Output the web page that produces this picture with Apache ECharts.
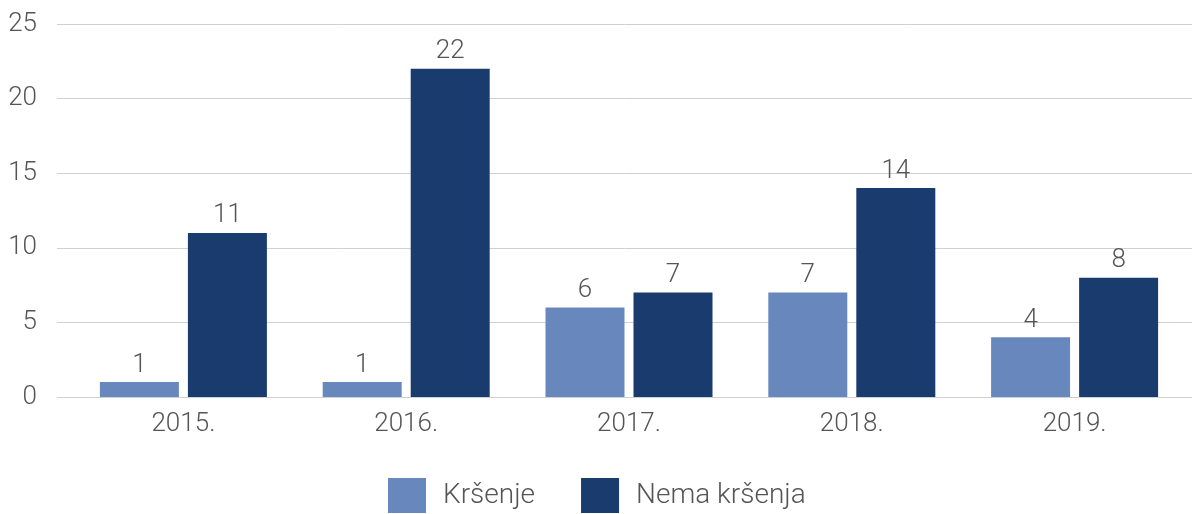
<!DOCTYPE html>
<html>
<head>
<meta charset="utf-8">
<script src="https://cdn.jsdelivr.net/npm/echarts@6/dist/echarts.min.js"></script>
<style>
  html, body { margin: 0; padding: 0; background: #fff; }
  #chart { width: 1192px; height: 514px; }
</style>
</head>
<body>
<div id="chart"></div>
<script>
const years = ["2015.", "2016.", "2017.", "2018.", "2019."];
const krsenje = [1, 1, 6, 7, 4];
const nemaKrsenja = [11, 22, 7, 14, 8];
const yTicks = [0, 5, 10, 15, 20, 25];

const font = "Roboto";
const chart = echarts.init(document.getElementById("chart"));

const option = {
  animation: false,
  textStyle: { fontFamily: font, fontWeight: 300 },
  legend: {
    bottom: 1,
    left: 388,
    padding: 0,
    itemWidth: 38,
    itemHeight: 35,
    itemGap: 46,
    icon: "rect",
    textStyle: { fontSize: 28, color: "#555", fontFamily: font, fontWeight: 300, padding: [0, 0, 0, 12] },
    data: ["Kršenje", "Nema kršenja"]
  },
  grid: [
    // background grid for the horizontal lines
    { left: 57, right: 0, top: 24, bottom: 117 },
    // grid holding the bars
    { left: 72, right: 6, top: 24, bottom: 117 }
  ],
  xAxis: [
    { gridIndex: 0, type: "value", show: false, min: 0, max: 1 },
    {
      gridIndex: 1,
      type: "category",
      data: years,
      axisLine: { show: false },
      axisTick: { show: false },
      axisLabel: { fontSize: 26, color: "#555", margin: 14, fontFamily: font, fontWeight: 300 }
    }
  ],
  yAxis: [
    {
      gridIndex: 0,
      type: "value",
      min: yTicks[0],
      max: yTicks[yTicks.length - 1],
      interval: 5,
      axisLine: { show: false },
      axisTick: { show: false },
      axisLabel: { fontSize: 26, color: "#555", margin: 20, fontFamily: font, fontWeight: 300 },
      splitLine: { lineStyle: { color: "#d0d0d0", width: 1 } }
    },
    {
      gridIndex: 1,
      type: "value",
      min: yTicks[0],
      max: yTicks[yTicks.length - 1],
      interval: 5,
      show: false,
      splitLine: { show: false }
    }
  ],
  series: [
    {
      name: "Kršenje",
      type: "bar",
      xAxisIndex: 1,
      yAxisIndex: 1,
      data: krsenje,
      barWidth: 79,
      barGap: "11.4%",
      itemStyle: { color: "#6888bd" },
      label: { show: true, position: "top", fontSize: 26, color: "#555", distance: 4, fontFamily: font, fontWeight: 300 }
    },
    {
      name: "Nema kršenja",
      type: "bar",
      xAxisIndex: 1,
      yAxisIndex: 1,
      data: nemaKrsenja,
      barWidth: 79,
      itemStyle: { color: "#1a3b6d" },
      label: { show: true, position: "top", fontSize: 26, color: "#555", distance: 4, fontFamily: font, fontWeight: 300 }
    }
  ]
};

chart.setOption(option);
</script>
</body>
</html>
